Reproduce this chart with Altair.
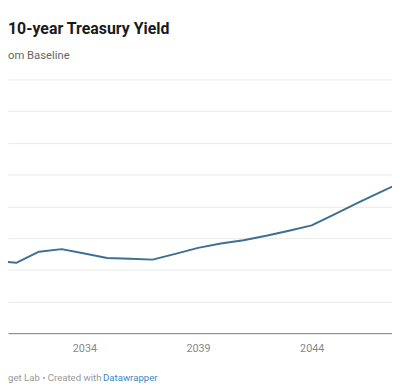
import altair as alt
import pandas as pd

# Data (change from baseline, percentage points)
years = [2030, 2031, 2032, 2033, 2034, 2035, 2036, 2037, 2038, 2039,
         2040, 2041, 2042, 2043, 2044, 2045, 2046, 2047, 2048]
change = [0.228, 0.222, 0.257, 0.265, 0.251, 0.237, 0.235, 0.232, 0.250, 0.269,
          0.283, 0.293, 0.307, 0.323, 0.340, 0.375, 0.410, 0.444, 0.477]
tick_years = [2034, 2039, 2044]
grid_levels = [0.1, 0.2, 0.3, 0.4, 0.5, 0.6, 0.7, 0.8]

title_text = "10-year Treasury Yield"
subtitle_text = "om Baseline"
source_text = "get Lab \u2022 Created with "
credit_text = "Datawrapper"

df = pd.DataFrame({"year": years, "change": change})

W, H = 392, 259
x_scale = alt.Scale(domain=[2030.638, 2047.534], nice=False, zero=False)
y_scale = alt.Scale(domain=[0, 0.8], nice=False)

line = alt.Chart(df).mark_line(
    color="#3d7090", strokeWidth=2, clip=True, strokeJoin="round"
).encode(
    x=alt.X("year:Q", scale=x_scale,
            axis=alt.Axis(values=tick_years, format="d", title=None, grid=False,
                          ticks=False, labelFont="Roboto", labelFontSize=11,
                          labelColor="#888888", labelPadding=10,
                          domainColor="#777777", domainWidth=1, labelFlush=False)),
    y=alt.Y("change:Q", scale=y_scale,
            axis=alt.Axis(values=grid_levels, labels=False, ticks=False, domain=False,
                          title=None, gridColor="#e8e8e8", gridWidth=1)),
)

FS = 9.8
src = alt.Chart(pd.DataFrame({"t": [source_text]})).mark_text(
    align="left", baseline="middle", font="Roboto", fontSize=FS, color="#999999"
).encode(text="t:N", x=alt.value(0), y=alt.value(H + 46))

credit = alt.Chart(pd.DataFrame({"t": [credit_text]})).mark_text(
    align="left", baseline="middle", font="Roboto", fontSize=FS, color="#3a87c5"
).encode(text="t:N", x=alt.value(97), y=alt.value(H + 46))

chart = alt.layer(line, src, credit).properties(
    width=W, height=H,
    title=alt.TitleParams(
        text=title_text, subtitle=subtitle_text, anchor="start", frame="group",
        font="Roboto", fontSize=16.2, fontWeight="bold", color="#1a1a1a",
        subtitleFont="Roboto", subtitleFontSize=11.5, subtitleColor="#666666",
        subtitlePadding=14, offset=18,
    ),
    padding={"left": 0, "right": 0, "top": 69, "bottom": 52},
    autosize=alt.AutoSizeParams(type="none"),
).configure_view(stroke=None)

chart.save("out.html", embed_options={"renderer": "svg", "actions": False})
